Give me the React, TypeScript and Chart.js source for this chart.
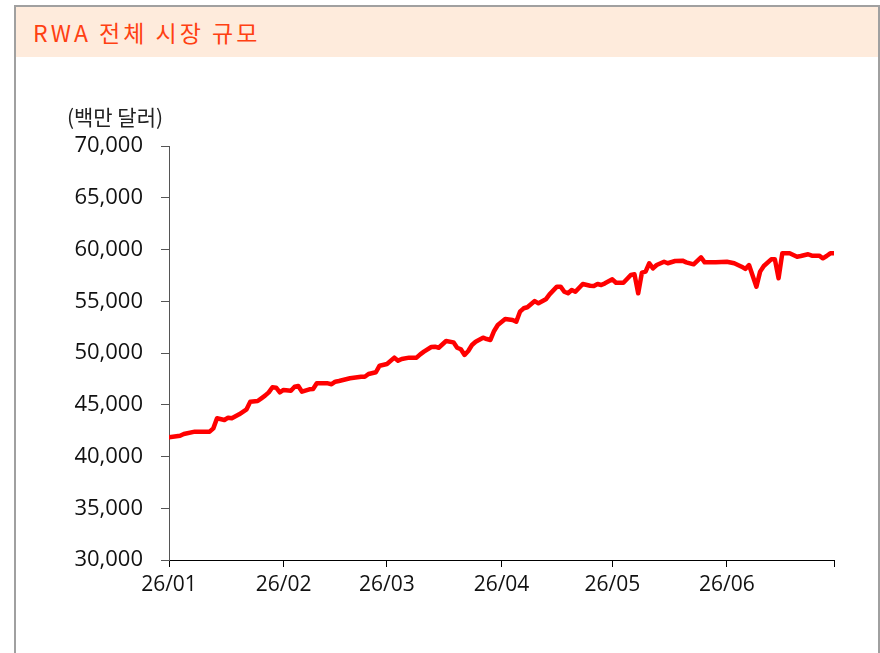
import React, { useEffect, useRef } from "react";
import { Chart, registerables } from "chart.js";

Chart.register(...registerables);

// Day index from 2026-01-01 (0) to 2026-06-30 (180)
const dayIndex = [
  0, 3, 4, 7, 11, 12, 13, 15, 16, 17, 19, 21, 22, 24, 25, 26, 27, 28, 29, 30, 31, 33, 34, 35, 36, 38, 39, 40, 43, 44, 45,
  46, 49, 52, 53, 54, 56, 57, 59, 61, 62, 63, 65, 67, 68, 69, 71, 72, 73, 75, 77, 78, 79, 80, 81, 82, 83, 85, 86, 87, 88, 89,
  91, 93, 94, 95, 96, 97, 99, 100, 102, 103, 105, 106, 107, 108, 109, 110, 112, 114, 115, 116, 117, 118, 120, 121, 123, 125, 126, 127, 128, 129, 130, 131, 132, 134, 135,
  137, 139, 140, 142, 144, 145, 148, 151, 153, 155, 156, 157, 159, 160, 161, 163, 164, 165, 166, 168, 170, 171, 173, 174, 176, 177, 178, 179, 180,
];

// RWA total market size (million USD)
const rwaValues = [
  41850, 42010, 42170, 42400, 42400, 42720, 43690, 43530, 43750, 43690, 44080, 44560, 45300, 45360, 45620, 45880, 46200, 46690, 46650, 46200, 46430, 46360, 46740, 46810, 46260, 46490, 46520, 47070, 47070, 46980, 47230,
  47300, 47560, 47710, 47710, 47970, 48140, 48770, 48940, 49550, 49260, 49420, 49550, 49550, 49870, 50130, 50580, 50610, 50510, 51160, 51030, 50510, 50360, 49810, 50190, 50770, 51090, 51480, 51350, 51260, 52130, 52710,
  53290, 53190, 53020, 53990, 54320, 54420, 55020, 54800, 55190, 55670, 56410, 56410, 55920, 55770, 56090, 55920, 56670, 56500, 56470, 56670, 56570, 56730, 57120, 56790, 56790, 57540, 57600, 55770, 57760, 57860, 58670, 58180, 58500, 58820, 58670,
  58890, 58920, 58760, 58570, 59250, 58760, 58760, 58820, 58670, 58340, 58120, 58500, 56410, 57860, 58410, 59050, 59050, 57220, 59630, 59630, 59300, 59370, 59540, 59400, 59400, 59150, 59370, 59630, 59630,
];

const monthTickDays = [0, 31, 59, 90, 120, 151, 180];
const monthTickLabels = ["26/01", "26/02", "26/03", "26/04", "26/05", "26/06", ""];

const yMin = 30000;
const yMax = 70000;
const yStep = 5000;

const titleText = "RWA 전체 시장 규모";
const unitText = "(백만 달러)";

const xTickFont = { family: '"Open Sans", "Noto Sans", sans-serif', size: 21 };
const yTickFont = { family: '"Open Sans", "Noto Sans", sans-serif', size: 22 };

export default function App() {
  const canvasRef = useRef<HTMLCanvasElement | null>(null);

  useEffect(() => {
    document.body.style.overflow = "hidden";
    const canvas = canvasRef.current;
    if (!canvas) return;

    const unitPlugin = {
      id: "unitLabel",
      afterDraw(chart: any) {
        const { ctx, chartArea } = chart;
        ctx.save();
        ctx.font = '21px "Noto Sans CJK KR", sans-serif';
        ctx.fillStyle = "#222";
        ctx.textAlign = "center";
        ctx.textBaseline = "middle";
        ctx.fillText(unitText, chartArea.left - 54, chartArea.top - 29);
        ctx.restore();
      },
    };

    const chart = new Chart(canvas, {
      type: "line",
      data: {
        datasets: [
          {
            data: dayIndex.map((d, i) => ({ x: d, y: rwaValues[i] })),
            borderColor: "#ff0000",
            borderWidth: 4.5,
            pointRadius: 0,
            tension: 0,
            borderJoinStyle: "round",
            borderCapStyle: "round",
            fill: false,
          },
        ],
      },
      options: {
        responsive: false,
        animation: false,
        layout: { padding: { top: 146, right: 46, left: 0, bottom: 0 } },
        plugins: {
          legend: { display: false },
          tooltip: { enabled: false },
          title: { display: false },
        },
        scales: {
          x: {
            type: "linear",
            min: 0,
            max: 180,
            afterBuildTicks: (scale: any) => {
              scale.ticks = monthTickDays.map((v) => ({ value: v }));
            },
            afterFit: (scale: any) => {
              scale.height = 93;
            },
            ticks: {
              autoSkip: false,
              maxRotation: 0,
              padding: 5,
              color: "#111",
              font: xTickFont,
              callback: (value: any) => {
                const idx = monthTickDays.indexOf(Number(value));
                return idx >= 0 ? monthTickLabels[idx] : "";
              },
            },
            grid: { drawOnChartArea: false, drawTicks: true, tickLength: 7, color: "#000" },
            border: { display: true, color: "#000", width: 1 },
          },
          y: {
            min: yMin,
            max: yMax,
            afterFit: (scale: any) => {
              scale.width = 169;
            },
            ticks: {
              stepSize: yStep,
              padding: 18,
              color: "#111",
              font: yTickFont,
              callback: (value: any) => Number(value).toLocaleString("en-US"),
            },
            grid: { drawOnChartArea: false, drawTicks: true, tickLength: 8, color: "#555" },
            border: { display: true, color: "#555", width: 1 },
          },
        },
      },
      plugins: [unitPlugin],
    } as any);

    return () => chart.destroy();
  }, []);

  return (
    <div>
      <div
        style={{
          position: "fixed",
          left: 14,
          top: 5,
          width: 866,
          height: 700,
          boxSizing: "border-box",
          borderTop: "2px solid #a0a0a0",
          borderLeft: "2px solid #a0a0a0",
          borderRight: "2px solid #a0a0a0",
          background: "#fff",
        }}
      >
        <div
          style={{
            height: 50,
            background: "#feebdc",
            position: "relative",
          }}
        >
          <div
            style={{
              position: "absolute",
              left: 17,
              top: 12,
              fontFamily: '"Noto Sans CJK KR", sans-serif',
              fontSize: 23,
              lineHeight: "27px",
              color: "#ff4012",
              letterSpacing: 3,
              whiteSpace: "nowrap",
            }}
          >
            {titleText}
          </div>
        </div>
      </div>
      <canvas
        ref={canvasRef}
        width={880}
        height={653}
        style={{ position: "fixed", left: 0, top: 0, width: 880, height: 653 }}
      />
    </div>
  );
}
